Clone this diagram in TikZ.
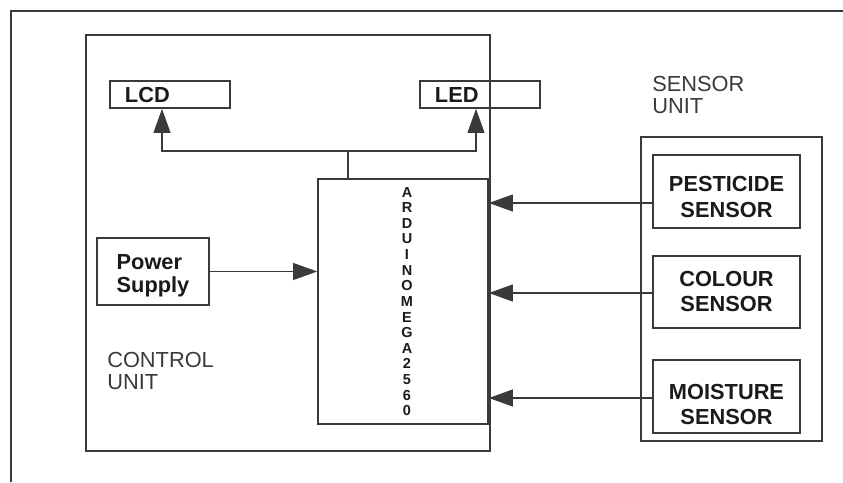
\documentclass[tikz,border=0pt]{standalone}
\usepackage{fontspec}
\setmainfont{Liberation Sans}
\usetikzlibrary{arrows.meta}
\definecolor{ln}{HTML}{3A3A3A}
\definecolor{tx}{HTML}{1A1A1A}
\newcommand{\twoline}[3]{\raisebox{#1}[\height][\depth]{\begin{tabular}{@{}c@{}}#2\\#3\end{tabular}}}
\begin{document}
\begin{tikzpicture}[x=0.025cm,y=-0.025cm,
  box/.style={draw=ln,line width=1.1pt,inner sep=0pt,text=tx},
  bl/.style={font=\fontsize{15.5}{17.8}\selectfont\bfseries},
  rg/.style={font=\fontsize{15.5}{15.8}\selectfont,text=ln,inner sep=0pt,align=left},
  arr/.style={draw=ln,line width=1.1pt,-{Triangle[length=0.6cm,width=0.42cm]}},
  wire/.style={draw=ln,line width=1.1pt}]
\useasboundingbox (0,0) rectangle (843,482);
% outer frame (cut off at right and bottom)
\coordinate (fb) at (11,482);
\coordinate (fc) at (11,11);
\coordinate (fr) at (843,11);
\draw[wire] (fb) -- (fc) -- (fr);
% control unit
\node[box,minimum width=10.1cm,minimum height=10.4cm] (cu) at (288,243) {};
\node[box,bl,minimum width=3cm,minimum height=0.675cm,text width=2.25cm,inner xsep=0.375cm,align=left] (lcd) at (170,94.5) {LCD};
\node[box,bl,minimum width=3cm,minimum height=0.675cm,text width=2.25cm,inner xsep=0.375cm,align=left] (led) at (480,94.5) {LED};
\node[box,minimum width=4.25cm,minimum height=6.125cm,align=center,
  font=\fontsize{10.3}{11.1}\selectfont\bfseries] (ard) at (403,301.5)
  {\hspace*{0.2cm}A\\\hspace*{0.2cm}R\\\hspace*{0.2cm}D\\\hspace*{0.2cm}U\\\hspace*{0.2cm}I\\\hspace*{0.2cm}N\\\hspace*{0.2cm}O\\\hspace*{0.2cm}M\\\hspace*{0.2cm}E\\\hspace*{0.2cm}G\\\hspace*{0.2cm}A\\\hspace*{0.2cm}2\\\hspace*{0.2cm}5\\\hspace*{0.2cm}6\\\hspace*{0.2cm}0};
\node[box,bl,minimum width=2.8cm,minimum height=1.675cm] (ps) at (153,271.5) {\raisebox{-0.12cm}[\height][\depth]{\begin{tabular}{@{}l@{}}Power\\[-0.05cm]Supply\end{tabular}}};
\node[rg,anchor=north west] (cul) at (107,352) {CONTROL\\UNIT};
% sensor unit
\node[rg,anchor=north west] (sul) at (652,76) {SENSOR\\UNIT};
\node[box,minimum width=4.525cm,minimum height=7.6cm] (su) at (731.5,289) {};
\node[box,bl,minimum width=3.675cm,minimum height=1.825cm] (pest) at (726.5,191.5) {\twoline{-0.2cm}{PESTICIDE}{SENSOR}};
\node[box,bl,minimum width=3.675cm,minimum height=1.8cm] (col) at (726.5,292) {\twoline{-0.06cm}{COLOUR}{SENSOR}};
\node[box,bl,minimum width=3.675cm,minimum height=1.825cm] (moi) at (726.5,396.5) {\twoline{-0.26cm}{MOISTURE}{SENSOR}};
% connectors
\coordinate (j) at (348,151);
\coordinate (jl) at (162,151);
\coordinate (jr) at (476,151);
\draw[wire] (ard.north -| j) -- (j);
\draw[arr] (j) -- (jl) -- (jl |- lcd.south);
\draw[arr] (j) -- (jr) -- (jr |- led.south);
\draw[arr] (ps.east) -- (ps.east -| ard.west);
\coordinate (y1) at (0,203);
\coordinate (y2) at (0,293);
\coordinate (y3) at (0,398);
\draw[arr] (pest.west |- y1) -- (ard.east |- y1);
\draw[arr] (col.west |- y2) -- (ard.east |- y2);
\draw[arr] (moi.west |- y3) -- (ard.east |- y3);
\end{tikzpicture}
\end{document}
